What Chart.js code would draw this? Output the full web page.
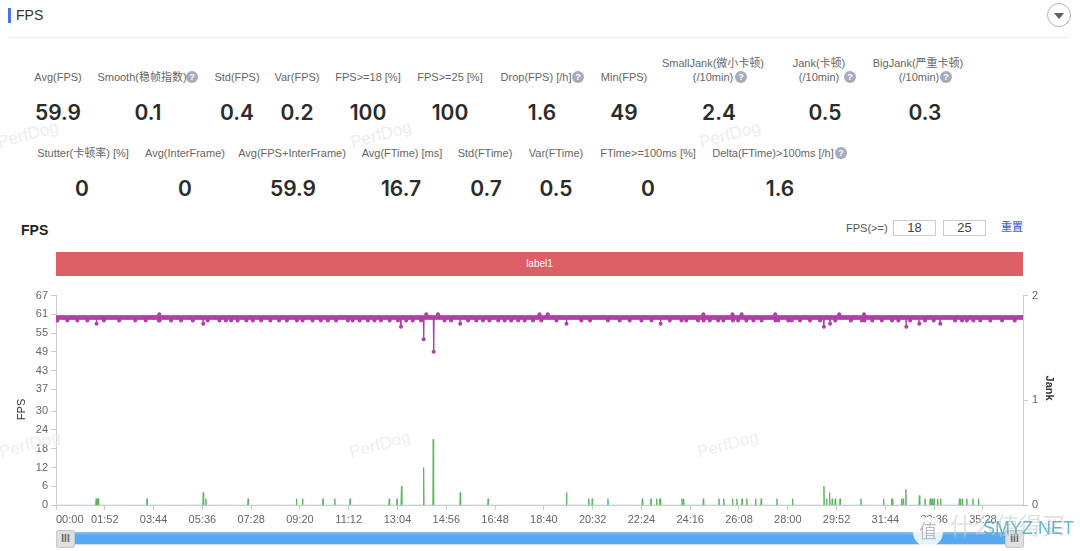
<!DOCTYPE html>
<html>
<head>
<meta charset="utf-8">
<title>FPS</title>
<script src="https://cdn.jsdelivr.net/npm/chart.js@4/dist/chart.umd.min.js"></script>
<style>
  html, body { margin: 0; padding: 0; background: #fff; }
  body { width: 1080px; height: 551px; position: relative; overflow: hidden; font-family: "Liberation Sans", "Noto Sans CJK SC", sans-serif; color: #333; }
  .abs { position: absolute; white-space: nowrap; }
  .lbl { font-size: 11px; color: #666; line-height: 14px; transform: translate(-50%, -50%); }
  .val { font-family: Inter, sans-serif; font-size: 21px; font-weight: 600; color: #2b2b2b; line-height: 26px; transform: translate(-50%, -50%); }
  .help { width: 12px; height: 12px; border-radius: 50%; background: #a6abbe; color: #fff; font-size: 9px; line-height: 12px; text-align: center; transform: translate(-50%, -50%); font-weight: 700; }
  .mark { font-size: 17px; color: #eeeeee; transform: translate(-50%, -50%) rotate(-15deg); }
  .box { border: 1px solid #c9cce0; font-size: 13px; color: #444; text-align: center; width: 41px; height: 14px; line-height: 14px; }
  .grip { width: 17px; height: 16px; line-height: 16px; background: #dfdfe2; border: 1px solid #c6c7ce; border-radius: 2px; font-size: 10px; font-weight: 700; color: #666; text-align: center; }
  #fpsCanvas { position: absolute; left: 0; top: 285px; }
</style>
</head>
<body>
<canvas id="fpsCanvas" width="1080" height="266"></canvas>
<div id="page"></div>
<script>
// x axis labels, one every 112 seconds
var xTickLabels = ['00:00', '01:52', '03:44', '05:36', '07:28', '09:20', '11:12', '13:04', '14:56', '16:48',
  '18:40', '20:32', '22:24', '24:16', '26:08', '28:00', '29:52', '31:44', '33:36', '35:28'];
var fpsTicks = [0, 6, 12, 18, 24, 30, 37, 43, 49, 55, 61, 67];
var jankTicks = [0, 1, 2];
var lastSecond = 2220;

var fpsBase = 60;
var fps59Seconds = [3, 26, 49, 72, 110, 145, 182, 206, 236, 238, 264, 287, 314, 348, 375, 390, 402, 417, 437, 452, 471, 492, 512, 530,
  553, 566, 589, 608, 624, 643, 670, 681, 697, 716, 731, 746, 766, 785, 804, 819, 838, 892, 907, 946, 965, 980, 995, 1015, 1030, 1045,
  1061, 1076, 1095, 1114, 1149, 1206, 1226, 1267, 1294, 1317, 1344, 1367, 1409, 1436, 1447, 1474, 1487, 1501, 1520, 1532, 1554, 1566,
  1585, 1601, 1620, 1652, 1658, 1681, 1689, 1708, 1731, 1754, 1789, 1825, 1850, 1856, 1874, 1896, 1919, 1934, 1961, 1995, 2015, 2064,
  2080, 2091, 2106, 2122, 2145, 2172, 2201];
var fps58Seconds = [93, 338, 928, 1172, 1388, 1777, 1982, 2030];
var fps61Seconds = [237, 850, 877, 1110, 1129, 1486, 1553, 1574, 1651, 1798, 1855];
var fpsLowSeconds = [792, 844, 867, 1763, 1952];
var fpsLowValues = [57, 53, 49, 57, 57];

// green spikes
var jankSeconds = [92, 95, 97, 209, 338, 344, 441, 552, 566, 613, 640, 675, 765, 783, 793, 844, 866, 928, 992, 1172, 1223, 1231, 1267,
  1346, 1366, 1379, 1386, 1388, 1437, 1441, 1486, 1522, 1533, 1553, 1563, 1575, 1586, 1606, 1619, 1655, 1691, 1763, 1769, 1776, 1782,
  1789, 1800, 1848, 1900, 1918, 1921, 1941, 1945, 1951, 1982, 1995, 2007, 2010, 2013, 2016, 2024, 2031, 2074, 2077, 2081, 2091, 2105, 2118];
var jankValues = [2, 2, 2, 2, 4, 2, 2, 2, 2, 2, 2, 2, 2, 2, 6, 12, 21, 4, 2, 4, 2, 2, 2,
  2, 2, 2, 2, 2, 2, 2, 2, 2, 2, 2, 2, 2, 2, 2, 2, 2, 2, 6, 2, 4, 2,
  2, 2, 2, 2, 2, 2, 2, 2, 5, 3, 2, 2, 2, 2, 2, 2, 2, 2, 2, 2, 2, 2, 2];

// stat blocks: text, centre x, centre y
var statLabels = [
  ['Avg(FPS)', 58, 77], ['Smooth(稳帧指数)', 142, 77], ['Std(FPS)', 237, 77], ['Var(FPS)', 297, 77], ['FPS>=18 [%]', 368, 77],
  ['FPS>=25 [%]', 450, 77], ['Drop(FPS) [/h]', 536, 77], ['Min(FPS)', 624, 77], ['SmallJank(微小卡顿)', 713, 63], ['(/10min)', 713, 77],
  ['Jank(卡顿)', 819, 63], ['(/10min)', 819, 77], ['BigJank(严重卡顿)', 918, 63], ['(/10min)', 919, 77],
  ['Stutter(卡顿率) [%]', 83, 153], ['Avg(InterFrame)', 185, 153], ['Avg(FPS+InterFrame)', 292, 153], ['Avg(FTime) [ms]', 402, 153],
  ['Std(FTime)', 485, 153], ['Var(FTime)', 556, 153], ['FTime>=100ms [%]', 648, 153], ['Delta(FTime)>100ms [/h]', 773, 153]
];
var statValues = [
  ['59.9', 58, 113], ['0.1', 148, 113], ['0.4', 237, 113], ['0.2', 297, 113], ['100', 368, 113], ['100', 450, 113],
  ['1.6', 542, 113], ['49', 624, 113], ['2.4', 719, 113], ['0.5', 825, 113], ['0.3', 925, 113],
  ['0', 82, 189], ['0', 185, 189], ['59.9', 293, 189], ['16.7', 401, 189], ['0.7', 486, 189], ['0.5', 556, 189], ['0', 648, 189], ['1.6', 780, 189]
];
var helpIcons = [[192, 77], [578, 77], [741, 77], [850, 77], [946, 77], [841, 153]];
var watermarks = [[28, 135], [381, 135], [730, 135], [30, 445], [380, 445], [728, 445]];

function addDiv(cls, text, css) {
  var d = document.createElement('div');
  d.className = 'abs ' + cls;
  d.textContent = text;
  d.style.cssText = css;
  document.getElementById('page').appendChild(d);
  return d;
}

// Everything around the chart
function buildPage() {
  var i;
  for (i = 0; i < watermarks.length; i++) {
    addDiv('mark', 'PerfDog', 'left:' + watermarks[i][0] + 'px;top:' + watermarks[i][1] + 'px');
  }
  addDiv('', '', 'left:8px;top:8px;width:3px;height:15px;background:#4f6ef7');
  addDiv('', 'FPS', 'left:16px;top:6px;font-size:14px;line-height:18px;color:#333');
  addDiv('', '', 'left:8px;top:37px;width:1062px;height:1px;background:#eeeff3');
  addDiv('', '', 'left:1047px;top:3px;width:22px;height:22px;border:1px solid #aeb2c6;border-radius:50%');
  addDiv('', '', 'left:1054px;top:13px;width:0;height:0;border-left:5px solid transparent;border-right:5px solid transparent;border-top:6px solid #5c6072');

  for (i = 0; i < statLabels.length; i++) {
    addDiv('lbl', statLabels[i][0], 'left:' + statLabels[i][1] + 'px;top:' + statLabels[i][2] + 'px');
  }
  for (i = 0; i < statValues.length; i++) {
    addDiv('val', statValues[i][0], 'left:' + statValues[i][1] + 'px;top:' + statValues[i][2] + 'px');
  }
  for (i = 0; i < helpIcons.length; i++) {
    addDiv('help', '?', 'left:' + helpIcons[i][0] + 'px;top:' + helpIcons[i][1] + 'px');
  }

  addDiv('', 'FPS', 'left:21px;top:221px;font-size:14px;line-height:18px;font-weight:700;color:#222');
  addDiv('', 'FPS(>=)', 'left:846px;top:221px;font-size:11px;line-height:14px;color:#555');
  addDiv('box', '18', 'left:893px;top:220px');
  addDiv('box', '25', 'left:943px;top:220px');
  addDiv('', '重置', 'left:1001px;top:220px;font-size:11px;line-height:15px;font-weight:500;color:#3f66f5');

  addDiv('', 'label1', 'left:56px;top:252px;width:967px;height:24px;line-height:24px;background:#dc5f66;color:#fff;font-size:10px;text-align:center');

  // time range slider
  addDiv('', '', 'left:74px;top:532px;width:934px;height:12px;background:linear-gradient(#8cc4f3, #58a9ef 25%);border-bottom:1px solid #d8dbe4');
  addDiv('grip', 'III', 'left:56px;top:530px');
  addDiv('grip', 'III', 'left:1005px;top:530px');

  // site stamp in the corner
  addDiv('', '值', 'left:913px;top:517px;width:30px;height:30px;line-height:30px;border-radius:50%;background:rgba(255,255,255,.85);color:#bbb;font-size:18px;text-align:center');
  addDiv('', '什么值得买', 'left:950px;top:511px;font-size:23px;line-height:30px;color:rgba(205,205,205,.6)');
  addDiv('', 'SMYZ.NET', 'left:983px;top:517px;font-size:18px;line-height:22px;color:rgba(70,170,185,.8)');
}

function secondsFromLabel(label) {
  var parts = label.split(':');
  return parseInt(parts[0], 10) * 60 + parseInt(parts[1], 10);
}

function fpsPoints() {
  var byTime = {};
  var i;
  for (i = 0; i < fps59Seconds.length; i++) byTime[fps59Seconds[i]] = 59;
  for (i = 0; i < fps58Seconds.length; i++) byTime[fps58Seconds[i]] = 58;
  for (i = 0; i < fps61Seconds.length; i++) byTime[fps61Seconds[i]] = 61;
  for (i = 0; i < fpsLowSeconds.length; i++) byTime[fpsLowSeconds[i]] = fpsLowValues[i];
  var points = [];
  for (i = 0; i <= lastSecond; i++) {
    points.push({ x: i, y: byTime[i] !== undefined ? byTime[i] : fpsBase });
  }
  return points;
}

function jankPoints() {
  var byTime = {};
  var i;
  for (i = 0; i < jankSeconds.length; i++) byTime[jankSeconds[i]] = jankValues[i];
  var points = [];
  for (i = 0; i <= lastSecond; i++) {
    points.push({ x: i, y: byTime[i] || 0 });
  }
  return points;
}

function createFpsChart() {
  var axisColor = '#c8cbdc';
  var tickFont = { family: '"Liberation Sans", "Noto Sans CJK SC", sans-serif', size: 11 };
  var ctx = document.getElementById('fpsCanvas').getContext('2d');
  new Chart(ctx, {
    type: 'line',
    data: {
      datasets: [{
        label: 'FPS',
        data: fpsPoints(),
        borderColor: '#b040a8',
        backgroundColor: '#b040a8',
        borderWidth: 1,
        pointRadius: 2,
        pointBorderWidth: 0,
        yAxisID: 'y'
      }, {
        label: 'Jank',
        data: jankPoints(),
        borderColor: '#5cb660',
        backgroundColor: 'rgba(92,182,96,0.3)',
        borderWidth: 1,
        pointRadius: 0,
        fill: true,
        // flat stretches along zero are much paler than the spikes
        segment: {
          borderColor: function (c) {
            return c.p0.parsed.y === 0 && c.p1.parsed.y === 0 ? '#cbe7cc' : undefined;
          }
        },
        yAxisID: 'y'
      }]
    },
    options: {
      responsive: false,
      animation: false,
      layout: { padding: { top: 10, left: 0, right: 0, bottom: 0 } },
      plugins: { legend: { display: false }, tooltip: { enabled: false } },
      scales: {
        x: {
          type: 'linear',
          min: 0,
          max: lastSecond,
          afterBuildTicks: function (axis) {
            axis.ticks = xTickLabels.map(function (l) { return { value: secondsFromLabel(l) }; });
          },
          afterFit: function (axis) { axis.height = 46; },
          grid: { drawOnChartArea: false, color: axisColor, tickLength: 5, tickColor: axisColor },
          border: { color: axisColor },
          ticks: {
            autoSkip: false,
            maxRotation: 0,
            color: '#666',
            font: tickFont,
            padding: 3,
            callback: function (value) {
              var i = xTickLabels.findIndex(function (l) { return secondsFromLabel(l) === value; });
              // first label sits inside the plot in the reference
              return i === 0 ? '\u00a0\u00a0\u00a0\u00a0\u00a0\u00a0\u00a0\u00a0\u00a0' + xTickLabels[0] : xTickLabels[i];
            }
          }
        },
        y: {
          position: 'left',
          min: 0,
          max: 67,
          afterBuildTicks: function (axis) {
            axis.ticks = fpsTicks.map(function (v) { return { value: v }; });
          },
          afterFit: function (axis) { axis.width = 56; },
          grid: { drawOnChartArea: false, color: axisColor, tickLength: 5, tickColor: axisColor },
          border: { color: axisColor },
          ticks: { autoSkip: false, color: '#666', font: tickFont, padding: 3 },
          title: { display: true, text: 'FPS\u00a0\u00a0\u00a0\u00a0\u00a0\u00a0', color: '#333', font: tickFont, padding: { top: 15, bottom: 0 } }
        },
        y1: {
          position: 'right',
          min: 0,
          max: 2,
          afterBuildTicks: function (axis) {
            axis.ticks = jankTicks.map(function (v) { return { value: v }; });
          },
          afterFit: function (axis) { axis.width = 57; },
          grid: { drawOnChartArea: false, color: axisColor, tickLength: 5, tickColor: axisColor },
          border: { color: axisColor },
          ticks: { autoSkip: false, color: '#666', font: tickFont, padding: 4 },
          title: { display: true, text: 'Jank\u00a0\u00a0\u00a0\u00a0\u00a0\u00a0\u00a0\u00a0', color: '#333', font: { family: tickFont.family, size: 11, weight: '700' }, padding: { top: 24, bottom: 0 } }
        }
      }
    }
  });
}

buildPage();
createFpsChart();
</script>
</body>
</html>
